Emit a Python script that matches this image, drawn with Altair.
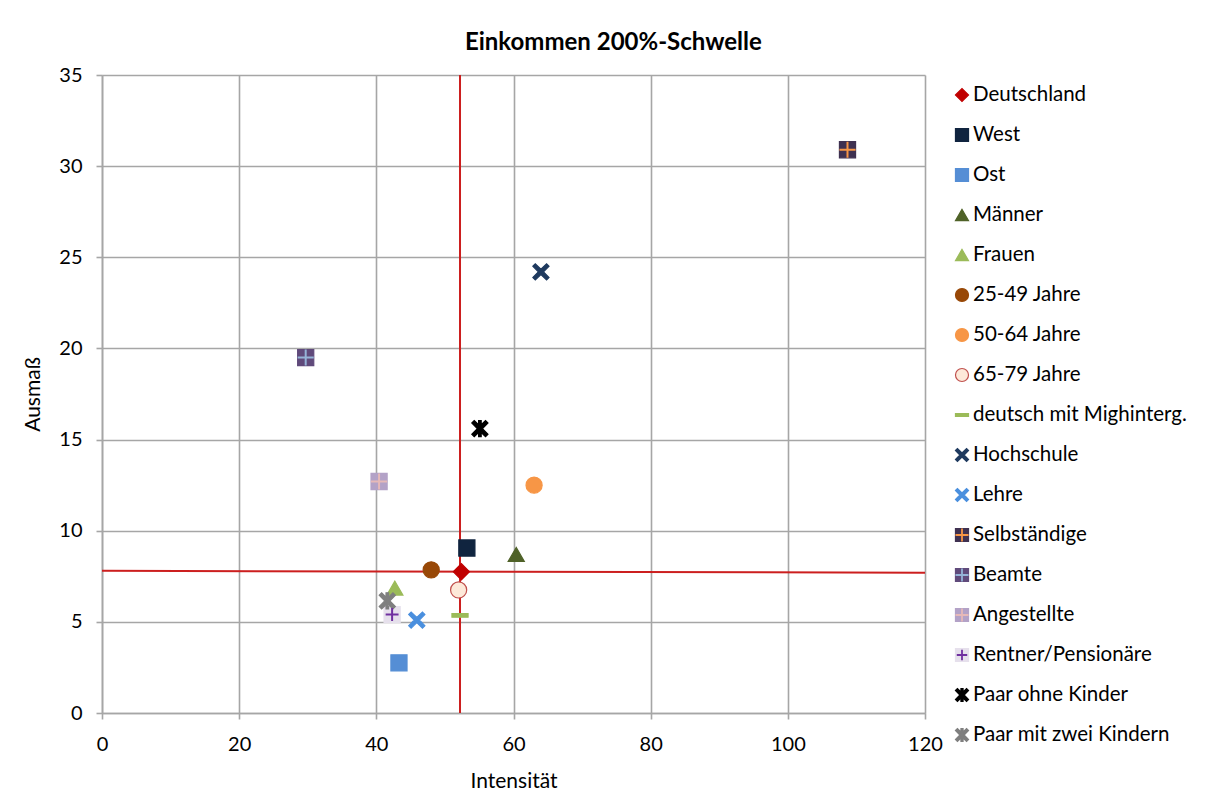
import altair as alt
import pandas as pd

names = ["Deutschland", "West", "Ost", "Männer", "Frauen", "25-49 Jahre", "50-64 Jahre",
         "65-79 Jahre", "deutsch mit Mighinterg.", "Hochschule", "Lehre", "Selbständige",
         "Beamte", "Angestellte", "Rentner/Pensionäre", "Paar ohne Kinder", "Paar mit zwei Kindern"]
intensitaet = [52.4, 53.2, 43.3, 60.4, 42.7, 48.0, 63.0, 52.0, 52.2, 64.0, 45.9, 108.7, 29.7, 40.4, 42.3, 55.1, 41.6]
ausmass = [7.75, 9.05, 2.75, 8.7, 6.85, 7.85, 12.5, 6.75, 5.35, 24.2, 5.1, 30.9, 19.5, 12.7, 5.4, 15.6, 6.15]

ref_x = 52.2
ref_y_left = 7.8
ref_y_right = 7.7

X_PATH = "M-1,-0.7L-0.7,-1L0,-0.32L0.7,-1L1,-0.7L0.32,0L1,0.7L0.7,1L0,0.32L-0.7,1L-1,0.7L-0.32,0Z"
STAR_PATH = X_PATH + "M-0.16,-1H0.16V1H-0.16Z"
BAR_PATH = "M-1,-0.22H1V0.22H-1Z"
PLUS_PATH = "M0,-1V1M-1,0H1"
PLUS_SMALL = "M0,-0.8V0.8M-0.8,0H0.8"
EMPTY = "M0,0"

shapes = ["diamond", "square", "square", "triangle-up", "triangle-up", "circle", "circle",
          "circle", BAR_PATH, X_PATH, X_PATH, "square", "square", "square", "square",
          STAR_PATH, STAR_PATH]
fill_colors = ["#c00000", "#10243f", "#558ed5", "#4f6228", "#9bbb59", "#984807", "#f79646",
               "#fde9d9", "#9bbb59", "#1f3a5f", "#4a8fde", "#3f3151", "#604a7b", "#b3a2c7",
               "#e6e0ec", "#000000", "#7f7f7f"]
stroke_colors = ["#c00000", "#10243f", "#558ed5", "#4f6228", "#9bbb59", "#984807", "#f79646",
                 "#c0504d", "#9bbb59", "#1f3a5f", "#4a8fde", "#3f3151", "#604a7b", "#b3a2c7",
                 "#e6e0ec", "#000000", "#7f7f7f"]
plus_shapes = [EMPTY] * 11 + [PLUS_PATH, PLUS_PATH, PLUS_PATH, PLUS_SMALL, EMPTY, EMPTY]
plus_colors = ["#ffffff"] * 11 + ["#f79646", "#95b3d7", "#e6b9b8", "#7030a0", "#ffffff", "#ffffff"]

df = pd.DataFrame({"name": names, "x": intensitaet, "y": ausmass,
                   "fill": fill_colors, "stroke": stroke_colors, "shape": shapes,
                   "pshape": plus_shapes, "pcolor": plus_colors})
hline = pd.DataFrame({"x": [0], "x2": [120], "y": [ref_y_left], "y2": [ref_y_right]})
vline = pd.DataFrame({"x": [ref_x]})

FONT = "Lato"

xenc = alt.X("x:Q", scale=alt.Scale(domain=[0, 120]),
             axis=alt.Axis(values=[0, 20, 40, 60, 80, 100, 120], title="Intensität",
                           titlePadding=16, labelPadding=15, labelFlush=False))
yenc = alt.Y("y:Q", scale=alt.Scale(domain=[0, 35]),
             axis=alt.Axis(values=[0, 5, 10, 15, 20, 25, 30, 35], title="Ausmaß",
                           titlePadding=15, labelPadding=14))

hrule = alt.Chart(hline).mark_rule(color="#cc1f1f", strokeWidth=2).encode(
    x=xenc, x2="x2:Q", y=yenc, y2="y2:Q")
vrule = alt.Chart(vline).mark_rule(color="#cc1f1f", strokeWidth=2).encode(x=xenc)

pts = alt.Chart(df).mark_point(filled=True, size=260, strokeWidth=1.2, opacity=1).encode(
    x=xenc, y=yenc,
    fill=alt.Fill("fill:N", scale=None),
    stroke=alt.Stroke("stroke:N", scale=None),
    shape=alt.Shape("shape:N", scale=None),
)
plus = alt.Chart(df).mark_point(filled=False, size=260, strokeWidth=2, opacity=1).encode(
    x=xenc, y=yenc,
    stroke=alt.Stroke("pcolor:N", scale=None),
    shape=alt.Shape("pshape:N", scale=None),
)

plot = alt.layer(hrule, vrule, pts, plus).properties(width=823, height=638)

# legend panel
leg_y = alt.Y("name:N", sort=names,
              scale=alt.Scale(domain=names, range=[20, 660], padding=0), axis=None)
leg_sym = alt.Chart(df).mark_point(filled=True, size=170, strokeWidth=1.2, opacity=1).encode(
    x=alt.value(10), y=leg_y,
    fill=alt.Fill("fill:N", scale=None),
    stroke=alt.Stroke("stroke:N", scale=None),
    shape=alt.Shape("shape:N", scale=None),
)
leg_plus = alt.Chart(df).mark_point(filled=False, size=170, strokeWidth=1.8, opacity=1).encode(
    x=alt.value(10), y=leg_y,
    stroke=alt.Stroke("pcolor:N", scale=None),
    shape=alt.Shape("pshape:N", scale=None),
)
leg_txt = alt.Chart(df).mark_text(align="left", baseline="middle", font=FONT, fontSize=20.5,
                                  color="#000000").encode(
    x=alt.value(21), y=leg_y, text="name:N")
legend_panel = alt.layer(leg_sym, leg_plus, leg_txt).properties(width=240, height=638)

chart = alt.hconcat(plot, legend_panel, spacing=27, bounds="flush").properties(
    title=alt.TitleParams("Einkommen 200%-Schwelle", font=FONT, fontSize=24, fontWeight="bold",
                          anchor="middle", dx=6, offset=10, color="#000000"),
    autosize=alt.AutoSizeParams(type="pad"),
    padding={"left": 14, "top": 23, "right": 0, "bottom": 0},
).configure_axis(
    gridColor="#a6a6a6", gridWidth=1.6, gridOpacity=1,
    domainColor="#a6a6a6", domainWidth=1.6,
    tickColor="#a6a6a6", tickSize=6, tickWidth=1.6,
    labelFont=FONT, labelFontSize=20, labelColor="#000000",
    titleFont=FONT, titleFontSize=21, titleFontWeight="normal", titleColor="#000000",
).configure_view(strokeOpacity=0)

chart.save("out.html", embed_options={"renderer": "svg", "actions": False})
